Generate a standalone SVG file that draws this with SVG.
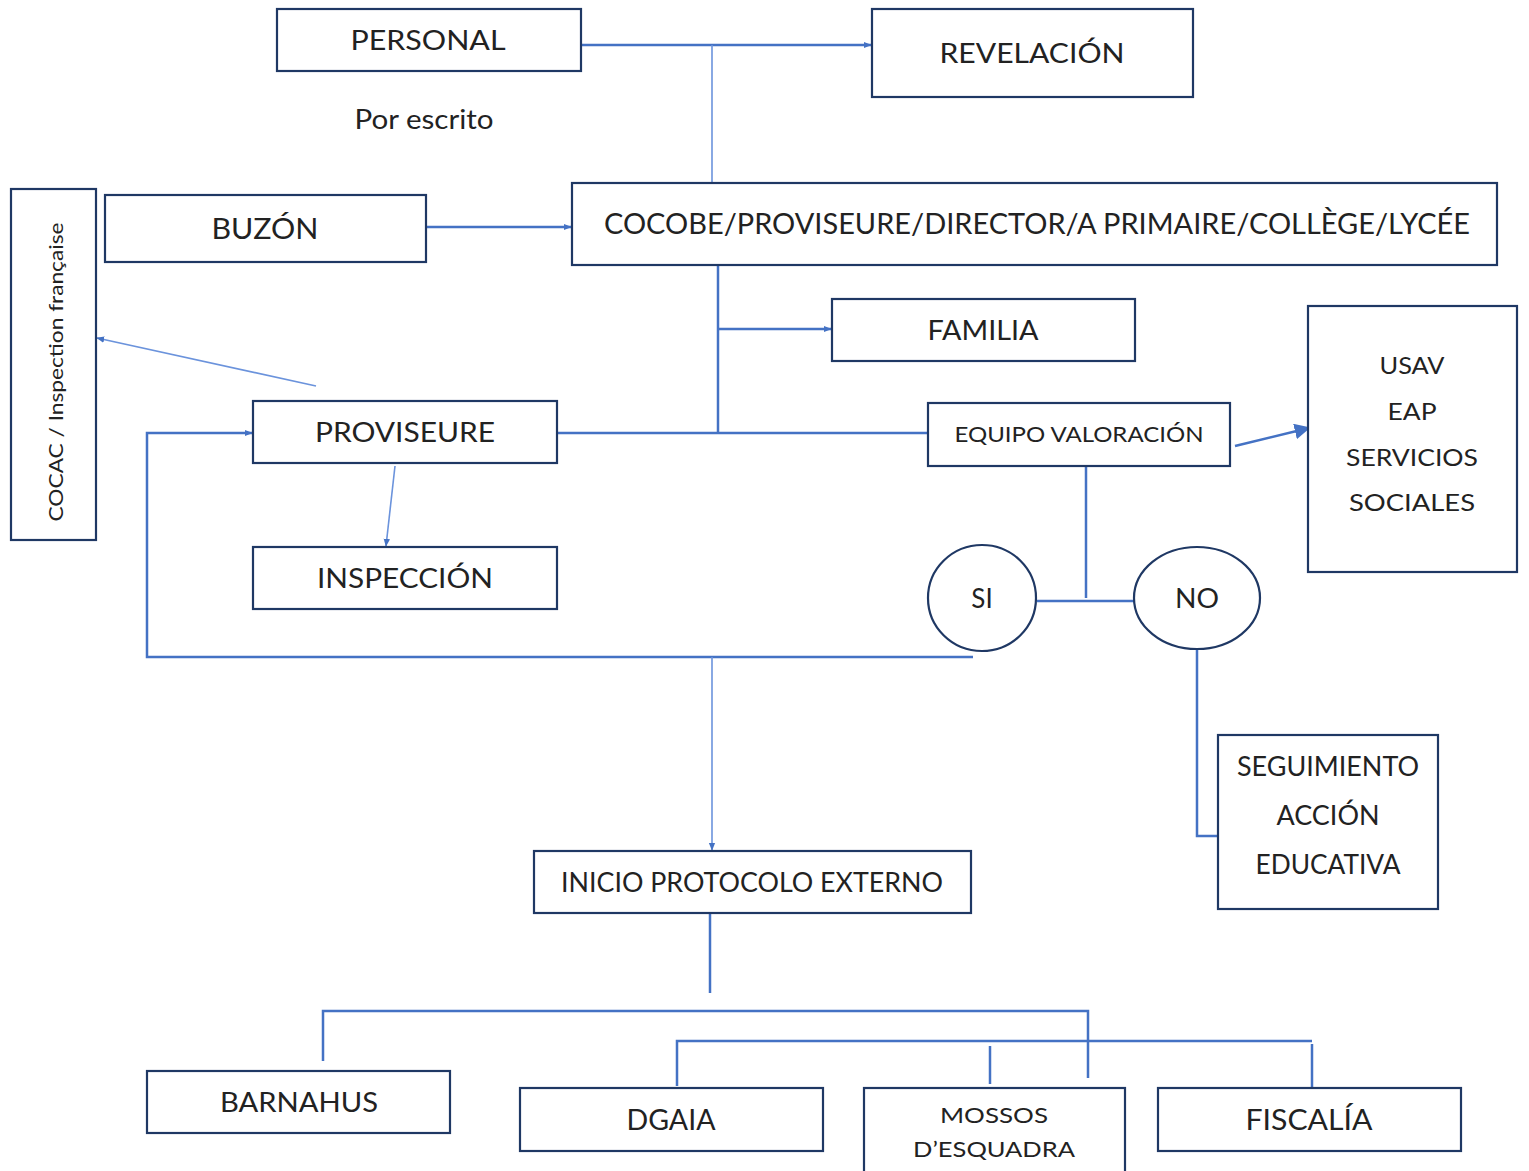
<svg xmlns="http://www.w3.org/2000/svg" width="1529" height="1171" viewBox="0 0 1529 1171">
<style>
.box{fill:#fff;stroke:#1f3864;stroke-width:2.2}
.t{font-family:Lato,"Noto Sans","Liberation Sans",sans-serif;fill:#222;text-anchor:middle;dominant-baseline:central}
.c{fill:none;stroke:#4472c4;stroke-width:2.5}
.cl{fill:none;stroke:#6b93dc;stroke-width:1.6}
</style>
<defs>
<marker id="a" viewBox="0 0 10 10" refX="9" refY="5" markerWidth="8" markerHeight="8" markerUnits="userSpaceOnUse" orient="auto"><path d="M0,1 L10,5 L0,9 z" fill="#4472c4"/></marker>
<marker id="ab" viewBox="0 0 10 10" refX="9" refY="5" markerWidth="16" markerHeight="16" markerUnits="userSpaceOnUse" orient="auto"><path d="M0,0 L10,5 L0,10 z" fill="#4472c4"/></marker>
</defs>
<rect width="1529" height="1171" fill="#fff"/>
<g id="connectors">
<path class="c" d="M581,45 H871" marker-end="url(#a)"/>
<path class="cl" d="M712,45 V183"/>
<path class="c" d="M426,227 H571" marker-end="url(#a)"/>
<path class="c" d="M718,265 V433"/>
<path class="c" d="M718,329 H831" marker-end="url(#a)"/>
<path class="c" d="M557,433 H928"/>
<path class="cl" d="M316,386 L97,338" marker-end="url(#a)"/>
<path class="cl" d="M395,466 L386,546" marker-end="url(#a)"/>
<path class="c" d="M1235,446 L1309,428" marker-end="url(#ab)" stroke-width="3.5"/>
<path class="c" d="M1086,466 V598"/>
<path class="c" d="M1037,601 H1134"/>
<path class="c" d="M1197,649 V836 H1218" stroke-width="3"/>
<path class="c" d="M973,657 H147 V433 H252" marker-end="url(#a)"/>
<path class="cl" d="M712,657 V850" marker-end="url(#a)"/>
<path class="c" d="M710,913 V993"/>
<path class="c" d="M323,1061 V1011 H1088 V1078"/>
<path class="c" d="M677,1086 V1041 H1312"/>
<path class="c" d="M1312,1044 V1087"/>
<path class="c" d="M990,1046 V1084"/>
</g>
<g id="personal"><rect class="box" x="277" y="9" width="304" height="62"/><text class="t" x="428" y="40" font-size="26" textLength="155" lengthAdjust="spacingAndGlyphs">PERSONAL</text></g>
<g id="revelacion"><rect class="box" x="872" y="9" width="321" height="88"/><text class="t" x="1032" y="53" font-size="26" textLength="185" lengthAdjust="spacingAndGlyphs">REVELACIÓN</text></g>
<g id="por-escrito"><text class="t" x="424" y="119" font-size="26" textLength="139" lengthAdjust="spacingAndGlyphs">Por escrito</text></g>
<g id="cocac"><rect class="box" x="11" y="189" width="85" height="351"/><text class="t" x="55" y="372" font-size="20" transform="rotate(-90 55 372)" textLength="299" lengthAdjust="spacingAndGlyphs">COCAC / Inspection française</text></g>
<g id="buzon"><rect class="box" x="105" y="195" width="321" height="67"/><text class="t" x="265" y="228" font-size="28" textLength="107" lengthAdjust="spacingAndGlyphs">BUZÓN</text></g>
<g id="cocobe"><rect class="box" x="572" y="183" width="925" height="82"/><text class="t" x="1037" y="223" font-size="28" textLength="866" lengthAdjust="spacingAndGlyphs">COCOBE/PROVISEURE/DIRECTOR/A PRIMAIRE/COLLÈGE/LYCÉE</text></g>
<g id="familia"><rect class="box" x="832" y="299" width="303" height="62"/><text class="t" x="983" y="330" font-size="26" textLength="111" lengthAdjust="spacingAndGlyphs">FAMILIA</text></g>
<g id="proviseure"><rect class="box" x="253" y="401" width="304" height="62"/><text class="t" x="405" y="432" font-size="26" textLength="180" lengthAdjust="spacingAndGlyphs">PROVISEURE</text></g>
<g id="equipo"><rect class="box" x="928" y="403" width="302" height="63"/><text class="t" x="1079" y="433" font-size="22" textLength="249" lengthAdjust="spacingAndGlyphs">EQUIPO VALORACIÓN</text></g>
<g id="usav"><rect class="box" x="1308" y="306" width="209" height="266"/>
<text class="t" x="1412" y="364" font-size="24" textLength="65" lengthAdjust="spacingAndGlyphs">USAV</text>
<text class="t" x="1412" y="410" font-size="24" textLength="49" lengthAdjust="spacingAndGlyphs">EAP</text>
<text class="t" x="1412" y="456" font-size="24" textLength="132" lengthAdjust="spacingAndGlyphs">SERVICIOS</text>
<text class="t" x="1412" y="501" font-size="24" textLength="126" lengthAdjust="spacingAndGlyphs">SOCIALES</text></g>
<g id="inspeccion"><rect class="box" x="253" y="547" width="304" height="62"/><text class="t" x="405" y="578" font-size="26" textLength="176" lengthAdjust="spacingAndGlyphs">INSPECCIÓN</text></g>
<g id="si"><ellipse class="box" cx="982" cy="598" rx="54" ry="53"/><text class="t" x="982" y="598" font-size="26">SI</text></g>
<g id="no"><ellipse class="box" cx="1197" cy="598" rx="63" ry="51"/><text class="t" x="1197" y="598" font-size="26" textLength="44" lengthAdjust="spacingAndGlyphs">NO</text></g>
<g id="seguimiento"><rect class="box" x="1218" y="735" width="220" height="174"/>
<text class="t" x="1328" y="766" font-size="26" textLength="182" lengthAdjust="spacingAndGlyphs">SEGUIMIENTO</text>
<text class="t" x="1328" y="815" font-size="26" textLength="103" lengthAdjust="spacingAndGlyphs">ACCIÓN</text>
<text class="t" x="1328" y="864" font-size="26" textLength="145" lengthAdjust="spacingAndGlyphs">EDUCATIVA</text></g>
<g id="inicio"><rect class="box" x="534" y="851" width="437" height="62"/><text class="t" x="752" y="882" font-size="26" textLength="382" lengthAdjust="spacingAndGlyphs">INICIO PROTOCOLO EXTERNO</text></g>
<g id="barnahus"><rect class="box" x="147" y="1071" width="303" height="62"/><text class="t" x="299" y="1102" font-size="26" textLength="158" lengthAdjust="spacingAndGlyphs">BARNAHUS</text></g>
<g id="dgaia"><rect class="box" x="520" y="1088" width="303" height="63"/><text class="t" x="671" y="1119" font-size="28" textLength="89" lengthAdjust="spacingAndGlyphs">DGAIA</text></g>
<g id="mossos"><rect class="box" x="864" y="1088" width="261" height="100"/>
<text class="t" x="994" y="1114" font-size="22" textLength="108" lengthAdjust="spacingAndGlyphs">MOSSOS</text>
<text class="t" x="994" y="1148" font-size="22" textLength="162" lengthAdjust="spacingAndGlyphs">D’ESQUADRA</text></g>
<g id="fiscalia"><rect class="box" x="1158" y="1088" width="303" height="63"/><text class="t" x="1309" y="1119" font-size="28" textLength="127" lengthAdjust="spacingAndGlyphs">FISCALÍA</text></g>
</svg>
